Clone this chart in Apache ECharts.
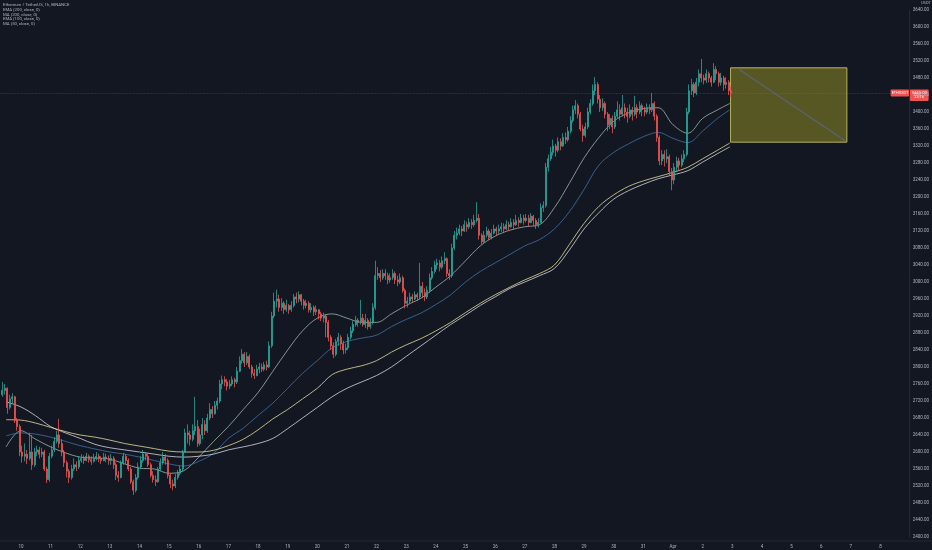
<!DOCTYPE html>
<html><head><meta charset="utf-8">
<script src="https://cdn.jsdelivr.net/npm/echarts@6/dist/echarts.min.js"></script>
<style>html,body{margin:0;padding:0;background:#131722;}#c{width:932px;height:550px;}</style>
</head><body><div id="c"></div>
<script>
// Hours are counted from 10 Mar 00:00. 2h candles.
const firstOpen = 2735;
const firstCandleHour = -16;
const candleStepHours = 2;
const closes = [
 2745,2750,2705,2725,2730,2675,2660,2600,
 2590,2595,2585,2600,2570,2600,2605,2595,2600,2560,2535,2590,
 2605,2625,2640,2620,2600,2575,2555,2540,2560,2570,2565,2580,
 2585,2580,2590,2582,2578,2585,2590,2584,2580,2588,2585,2580,
 2585,2570,2545,2540,2575,2590,2580,2560,2530,2510,2540,2565,
 2580,2595,2590,2570,2545,2535,2530,2560,2575,2588,2580,2545,
 2525,2520,2540,2550,2560,2600,2645,2640,2630,2650,2660,2620,
 2640,2665,2650,2680,2700,2690,2710,2720,2760,2770,2765,2755,
 2760,2770,2765,2790,2815,2830,2810,2825,2800,2785,2780,2795,
 2800,2795,2805,2800,2850,2920,2955,2960,2940,2950,2935,2945,
 2935,2945,2965,2960,2970,2955,2945,2950,2935,2940,2930,2935,
 2925,2915,2920,2905,2870,2850,2830,2860,2870,2855,2840,2845,
 2870,2885,2900,2910,2905,2915,2900,2910,2895,2905,2940,3015,
 3020,3010,3020,3015,3005,3010,3020,3005,3000,3010,2980,2950,
 2955,2965,2960,2970,2965,2990,2975,2965,2980,3010,3025,3040,
 3045,3035,3050,3055,3020,3015,3080,3110,3115,3125,3120,3135,
 3130,3140,3135,3145,3150,3110,3095,3110,3120,3105,3115,3125,
 3120,3125,3130,3125,3135,3130,3140,3135,3145,3140,3150,3145,
 3150,3140,3155,3145,3135,3140,3175,3180,3270,3290,3305,3320,
 3310,3330,3320,3340,3335,3355,3380,3405,3415,3395,3360,3345,
 3365,3400,3420,3450,3465,3430,3410,3420,3395,3370,3385,3365,
 3390,3405,3395,3410,3400,3390,3405,3395,3410,3400,3415,3405,
 3400,3410,3405,3420,3390,3340,3285,3300,3290,3295,3260,3240,
 3270,3285,3275,3290,3300,3400,3450,3465,3445,3470,3490,3480,
 3475,3490,3480,3470,3500,3490,3470,3480,3465,3470,3450,3445
];
const highs = [
 2765,2760,2752,2735,2738,2732,2680,2665,
 2615,2620,2605,2645,2640,2610,2615,2612,2610,2605,2565,2598,
 2615,2635,2650,2678,2630,2605,2580,2560,2570,2585,2578,2590,
 2595,2592,2598,2594,2590,2596,2600,2596,2590,2598,2596,2592,
 2595,2590,2575,2555,2580,2598,2595,2585,2565,2535,2548,2575,
 2590,2605,2600,2595,2575,2555,2545,2565,2585,2600,2595,2585,
 2550,2535,2548,2558,2568,2605,2655,2665,2650,2665,2730,2675,
 2655,2680,2675,2690,2715,2708,2720,2728,2770,2780,2778,2772,
 2770,2778,2775,2800,2825,2842,2835,2835,2830,2805,2795,2805,
 2810,2808,2812,2815,2860,2930,2975,2982,2970,2962,2955,2958,
 2948,2955,2972,2975,2978,2972,2960,2958,2955,2950,2945,2945,
 2935,2930,2928,2925,2910,2875,2858,2866,2880,2875,2862,2855,
 2878,2895,2908,2920,2915,2958,2925,2925,2915,2915,2950,3050,
 3035,3028,3030,3030,3022,3020,3030,3025,3015,3020,3015,2985,
 2965,2975,2972,2978,2975,3045,3000,2985,2990,3020,3035,3050,
 3055,3052,3060,3070,3058,3030,3090,3120,3128,3135,3132,3145,
 3142,3150,3148,3158,3188,3160,3115,3120,3130,3125,3125,3135,
 3130,3135,3140,3138,3145,3142,3150,3148,3158,3152,3160,3158,
 3160,3158,3162,3158,3150,3150,3185,3190,3280,3300,3318,3335,
 3325,3340,3338,3350,3352,3365,3390,3415,3428,3420,3400,3370,
 3375,3410,3430,3465,3482,3470,3440,3432,3425,3400,3395,3392,
 3400,3425,3418,3440,3420,3410,3418,3412,3438,3418,3425,3420,
 3412,3420,3418,3445,3425,3395,3345,3310,3310,3312,3300,3268,
 3280,3295,3292,3300,3310,3410,3465,3478,3470,3480,3500,3525,
 3488,3500,3495,3485,3515,3508,3495,3492,3485,3482,3475,3460
];
const lows = [
 2730,2735,2690,2700,2715,2668,2650,2590,
 2575,2578,2572,2580,2558,2565,2590,2585,2588,2555,2527,2530,
 2585,2600,2620,2610,2590,2565,2540,2527,2535,2555,2555,2560,
 2575,2572,2578,2575,2570,2575,2580,2576,2572,2578,2576,2570,
 2570,2560,2534,2530,2538,2570,2572,2555,2525,2499,2505,2535,
 2560,2575,2580,2565,2540,2528,2520,2528,2555,2570,2570,2538,
 2515,2510,2515,2535,2545,2555,2598,2620,2615,2625,2640,2612,
 2615,2630,2640,2645,2675,2680,2688,2700,2715,2748,2755,2745,
 2748,2755,2752,2760,2788,2808,2800,2805,2795,2775,2772,2778,
 2785,2788,2790,2792,2798,2845,2915,2940,2930,2932,2925,2930,
 2925,2930,2940,2950,2952,2945,2935,2938,2928,2928,2920,2922,
 2912,2908,2905,2870,2860,2840,2821,2825,2850,2840,2830,2832,
 2840,2865,2880,2895,2895,2900,2895,2892,2888,2890,2900,2935,
 3005,3000,3005,3005,2995,2998,3005,2995,2990,2995,2975,2938,
 2940,2950,2952,2958,2955,2960,2962,2955,2960,2975,3005,3020,
 3030,3025,3030,3042,3012,3005,3010,3075,3100,3110,3108,3118,
 3118,3125,3125,3130,3140,3100,3088,3090,3105,3098,3100,3112,
 3110,3112,3118,3115,3122,3120,3128,3125,3132,3130,3138,3135,
 3140,3130,3138,3132,3125,3128,3138,3165,3175,3260,3285,3298,
 3295,3305,3310,3318,3325,3330,3350,3375,3395,3385,3355,3330,
 3340,3360,3395,3415,3440,3420,3400,3402,3385,3355,3360,3350,
 3360,3385,3380,3390,3385,3375,3385,3380,3390,3385,3395,3390,
 3390,3395,3395,3400,3380,3330,3275,3275,3272,3280,3250,3216,
 3230,3260,3262,3270,3282,3295,3395,3440,3435,3440,3460,3470,
 3465,3468,3470,3460,3468,3475,3460,3462,3450,3455,3440,3435
];

// Moving-average lines (hours from 10 Mar 00:00)
const maHours = [-12,0,12,24,36,48,60,72,84,96,108,120,132,144,156,168,180,192,204,216,228,240,252,264,276,288,300,312,324,336,348,360,372,384,396,408,420,432,444,456,468,480,492,504,516,528,540,552,564,574];
const ma50 = [2612,2650,2630,2612,2598,2588,2586,2583,2572,2562,2560,2550,2556,2588,2625,2660,2700,2740,2790,2840,2885,2915,2925,2915,2905,2905,2925,2945,2962,2988,3015,3050,3085,3108,3122,3130,3135,3175,3232,3292,3340,3378,3398,3408,3410,3370,3350,3385,3405,3420];
const ema100 = [2638,2645,2642,2635,2625,2615,2607,2600,2595,2588,2580,2572,2567,2578,2597,2632,2656,2686,2715,2750,2785,2815,2845,2860,2868,2875,2895,2912,2927,2947,2970,3000,3025,3045,3065,3085,3100,3125,3165,3218,3275,3305,3325,3342,3352,3338,3328,3355,3385,3405];
const ma200 = [2676,2675,2668,2658,2648,2640,2635,2628,2620,2614,2608,2602,2600,2600,2604,2615,2630,2652,2678,2700,2725,2750,2782,2795,2803,2815,2835,2852,2867,2885,2905,2928,2950,2970,2988,3005,3020,3040,3088,3138,3178,3205,3225,3238,3248,3258,3270,3290,3310,3327];
const ema200 = [2718,2706,2685,2660,2645,2632,2618,2610,2605,2600,2595,2590,2588,2590,2595,2605,2612,2620,2632,2655,2680,2705,2730,2750,2765,2780,2800,2825,2850,2875,2900,2922,2945,2965,2985,3000,3015,3032,3075,3125,3163,3195,3215,3230,3243,3252,3262,3282,3302,3318];

const dayLabels = ['10','11','12','13','14','15','16','17','18','19','20','21','22','23','24','25','26','27','28','29','30','31','Apr','2','3','4','5','6','7','8'];
const legendLines = ['Ethereum / TetherUS, 1h, BINANCE','EMA (200, close, 0)','MA (200, close, 0)','EMA (100, close, 0)','MA (50, close, 0)'];

// Drawn rectangle and trend line (hours, prices)
const boxHours = [574.6, 668.8];
const boxPrices = [3504, 3329];
const trendHours = [581.6, 668];
const trendPrices = [3500, 3331];

const xMin = -16.94, xMax = 719.6;
const yMin = 2400, yMax = 3640, yStep = 40;

const candles = closes.map((c, i) => {
  const o = i === 0 ? firstOpen : closes[i - 1];
  const h = Math.max(highs[i], o, c), l = Math.min(lows[i], o, c);
  return [firstCandleHour + i * candleStepHours + 1, o, c, l, h];
});
const lastClose = closes[closes.length - 1];
const pair = arr => maHours.map((h, i) => [h, arr[i]]);

const FONT = 'Roboto';
const TXT = '#b2b5be';
const chart = echarts.init(document.getElementById('c'), null, {renderer: 'canvas'});

function lineSeries(name, arr, color, extra) {
  return Object.assign({
    name, type: 'line', data: pair(arr), smooth: 0.35, showSymbol: false, symbol: 'none',
    lineStyle: {color, width: 0.8}, z: 2, silent: true
  }, extra || {});
}

chart.setOption({
  animation: false,
  backgroundColor: '#131722',
  grid: {left: 0, right: 19, top: 10, bottom: 13},
  xAxis: {
    type: 'value', min: xMin, max: xMax,
    axisLine: {show: false, onZero: false}, axisTick: {show: false}, splitLine: {show: false},
    axisLabel: {
      customValues: dayLabels.map((_, i) => i * 24),
      formatter: v => dayLabels[Math.round(v / 24)],
      color: TXT, fontSize: 4.5, fontFamily: FONT, margin: 7
    }
  },
  yAxis: {
    type: 'value', position: 'right', min: yMin, max: yMax, interval: yStep, scale: true,
    axisLine: {show: true, onZero: false, lineStyle: {color: '#2a2e39', width: 0.8}},
    axisTick: {show: false}, splitLine: {show: false},
    axisLabel: {color: TXT, fontSize: 4.5, fontFamily: FONT, margin: 3, formatter: v => v.toFixed(2)}
  },
  series: [
    lineSeries('MA 50', ma50, '#9fb5ad'),
    lineSeries('EMA 100', ema100, '#3f72a8'),
    lineSeries('MA 200', ma200, '#e3df9a'),
    lineSeries('EMA 200', ema200, '#d6d8de', {
      markLine: {
        silent: true, symbol: ['none', 'none'],
        lineStyle: {color: '#5d6275', width: 1.3, type: 'solid'},
        label: {show: false},
        data: [[{coord: [trendHours[0], trendPrices[0]]}, {coord: [trendHours[1], trendPrices[1]]}]]
      }
    }),
    {
      name: 'ETHUSDT', type: 'candlestick', data: candles, z: 3,
      encode: {x: 0, y: [1, 2, 3, 4]},
      barWidth: 1.5,
      itemStyle: {color: '#26a69a', color0: '#ef5350', borderColor: '#26a69a', borderColor0: '#ef5350', borderWidth: 0.8},
      markLine: {
        silent: true, symbol: ['none', 'none'],
        lineStyle: {color: 'rgba(239,83,80,0.45)', width: 0.7, type: 'dotted'},
        label: {show: false},
        data: [{yAxis: lastClose}]
      },
      markArea: {
        silent: true,
        itemStyle: {color: 'rgba(170,166,40,0.45)', borderColor: 'rgba(205,200,100,0.85)', borderWidth: 1},
        data: [[{xAxis: boxHours[0], yAxis: boxPrices[0]}, {xAxis: boxHours[1], yAxis: boxPrices[1]}]]
      }
    }
  ]
});

const py = chart.convertToPixel({yAxisIndex: 0}, lastClose);
const pxRight = chart.convertToPixel({xAxisIndex: 0}, xMax);
const pyBottom = chart.convertToPixel({yAxisIndex: 0}, yMin);
const graphics = [];
legendLines.forEach((t, i) => graphics.push({
  type: 'text', left: 3, top: 3 + i * 4.8,
  style: {text: t, fill: TXT, font: '4.3px ' + FONT}
}));
graphics.push({type: 'line', shape: {x1: 0, y1: pyBottom + 4, x2: 932, y2: pyBottom + 4}, style: {stroke: '#2a2e39', lineWidth: 0.8}});
graphics.push({type: 'text', x: 921, y: 1, style: {text: 'USDT', fill: TXT, font: '4px ' + FONT}});
graphics.push({type: 'rect', shape: {x: pxRight - 19, y: py - 3.5, width: 18.5, height: 7, r: 0.8}, style: {fill: '#ef5350'}});
graphics.push({type: 'text', x: pxRight - 18, y: py - 2.2, style: {text: 'ETHUSDT', fill: '#ffffff', font: '3.8px ' + FONT}});
graphics.push({type: 'rect', shape: {x: pxRight, y: py - 3.5, width: 19, height: 11.5, r: 0.8}, style: {fill: '#ef5350'}});
graphics.push({type: 'text', x: pxRight + 2, y: py - 2.2, style: {text: lastClose.toFixed(2), fill: '#ffffff', font: '4.2px ' + FONT}});
graphics.push({type: 'text', x: pxRight + 4.5, y: py + 2.6, style: {text: '23:16', fill: '#ffffff', font: '4px ' + FONT}});
chart.setOption({graphic: graphics});
</script>
</body></html>
